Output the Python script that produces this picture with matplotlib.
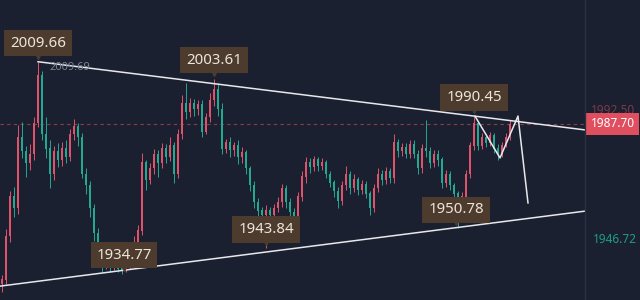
import matplotlib
matplotlib.use("Agg")
import matplotlib.pyplot as plt
import matplotlib.transforms as mtransforms
import numpy as np

plt.rcParams['font.family'] = ['Noto Sans', 'DejaVu Sans']

# candle data, one row of ten per line
opens = [1931.0, 1932.6, 1948.0, 1962.0, 1958.0, 1983.0, 1978.0, 1974.0, 1977.0, 1988.0,
         2005.0, 1984.0, 1979.0, 1970.0, 1978.0, 1975.0, 1979.0, 1976.0, 1984.0, 1987.0,
         1983.0, 1970.0, 1966.0, 1958.0, 1949.0, 1942.0, 1937.5, 1938.5, 1937.0, 1938.0,
         1936.5, 1936.0, 1937.5, 1940.0, 1946.0, 1950.0, 1974.0, 1968.0, 1972.0, 1977.0,
         1974.0, 1979.0, 1976.0, 1980.0, 1970.0, 1984.0, 1995.0, 1992.0, 1995.0, 1993.0,
         1994.5, 1985.0, 1990.0, 1996.0, 2000.0, 1993.0, 1979.0, 1981.0, 1978.5, 1980.0,
         1976.0, 1977.5, 1972.0, 1966.0, 1960.0, 1957.0, 1955.5, 1957.0, 1955.5, 1958.0,
         1960.0, 1965.0, 1960.0, 1956.5, 1954.0, 1962.0, 1969.0, 1974.0, 1972.5, 1975.0,
         1973.0, 1974.0, 1970.0, 1967.0, 1964.0, 1960.5, 1966.0, 1970.0, 1965.0, 1968.0,
         1964.5, 1966.5, 1963.0, 1958.0, 1965.0, 1970.0, 1968.0, 1971.0, 1968.5, 1981.0,
         1978.0, 1979.5, 1977.0, 1980.5, 1977.0, 1972.0, 1979.0, 1978.0, 1974.0, 1977.0,
         1975.0, 1967.0, 1970.0, 1966.0, 1963.0, 1955.0, 1962.0, 1970.0, 1980.0, 1988.0,
         1980.0, 1983.0, 1981.0, 1983.5, 1979.0, 1977.0, 1980.0, 1983.0]
closes = [1932.6, 1948.0, 1962.0, 1958.0, 1983.0, 1978.0, 1974.0, 1977.0, 1988.0, 2005.0,
          1984.0, 1979.0, 1970.0, 1978.0, 1975.0, 1979.0, 1976.0, 1984.0, 1987.0, 1983.0,
          1970.0, 1966.0, 1958.0, 1949.0, 1942.0, 1937.5, 1938.5, 1937.0, 1938.0, 1936.5,
          1936.0, 1937.5, 1940.0, 1946.0, 1950.0, 1974.0, 1968.0, 1972.0, 1977.0, 1974.0,
          1979.0, 1976.0, 1980.0, 1970.0, 1984.0, 1995.0, 1992.0, 1995.0, 1993.0, 1994.5,
          1985.0, 1990.0, 1996.0, 2000.0, 1993.0, 1979.0, 1981.0, 1978.5, 1980.0, 1976.0,
          1977.5, 1972.0, 1966.0, 1960.0, 1957.0, 1955.5, 1957.0, 1955.5, 1958.0, 1960.0,
          1965.0, 1960.0, 1956.5, 1954.0, 1962.0, 1969.0, 1974.0, 1972.5, 1975.0, 1973.0,
          1974.0, 1970.0, 1967.0, 1964.0, 1960.5, 1966.0, 1970.0, 1965.0, 1968.0, 1964.5,
          1966.5, 1963.0, 1958.0, 1965.0, 1970.0, 1968.0, 1971.0, 1968.5, 1981.0, 1978.0,
          1979.5, 1977.0, 1980.5, 1977.0, 1972.0, 1979.0, 1978.0, 1974.0, 1977.0, 1975.0,
          1967.0, 1970.0, 1966.0, 1963.0, 1955.0, 1962.0, 1970.0, 1980.0, 1988.0, 1980.0,
          1983.0, 1981.0, 1983.5, 1979.0, 1977.0, 1980.0, 1983.0, 1987.7]
highs = [1934.5, 1950.5, 1964.0, 1965.5, 1987.5, 1988.5, 1980.0, 1980.5, 1990.0, 2009.66,
         2006.5, 1990.0, 1982.0, 1980.0, 1981.0, 1981.5, 1982.0, 1986.0, 1989.5, 1988.0,
         1984.5, 1972.0, 1967.5, 1959.5, 1951.0, 1943.5, 1940.0, 1940.0, 1939.5, 1939.0,
         1937.5, 1939.0, 1942.0, 1948.0, 1952.0, 1977.5, 1975.0, 1974.0, 1979.0, 1978.5,
         1981.0, 1980.5, 1983.0, 1981.5, 1986.0, 1998.0, 2002.0, 1997.0, 1996.5, 1996.0,
         1996.0, 1991.5, 1998.5, 2003.61, 2002.0, 1995.0, 1982.5, 1983.0, 1981.5, 1982.0,
         1979.5, 1978.5, 1973.0, 1967.5, 1961.5, 1958.5, 1959.0, 1958.5, 1959.5, 1962.0,
         1966.5, 1966.0, 1961.5, 1958.0, 1963.5, 1971.0, 1976.0, 1975.5, 1976.5, 1976.0,
         1975.5, 1975.0, 1971.0, 1968.0, 1965.5, 1967.5, 1973.0, 1971.0, 1970.0, 1969.0,
         1968.0, 1967.5, 1964.0, 1966.5, 1972.0, 1971.5, 1972.5, 1972.0, 1984.0, 1982.5,
         1981.0, 1981.0, 1982.0, 1982.0, 1978.5, 1980.5, 1989.0, 1979.5, 1978.5, 1978.5,
         1976.0, 1971.5, 1971.0, 1967.0, 1964.0, 1963.5, 1971.5, 1981.5, 1990.45, 1988.5,
         1984.5, 1984.0, 1985.0, 1984.5, 1980.5, 1981.5, 1984.5, 1989.0]
lows = [1928.5, 1931.0, 1946.0, 1955.0, 1956.0, 1975.5, 1969.0, 1971.5, 1975.0, 1986.5,
        1982.0, 1975.5, 1965.0, 1968.0, 1972.5, 1973.0, 1974.0, 1974.5, 1982.0, 1980.0,
        1968.5, 1963.0, 1955.0, 1946.5, 1940.0, 1935.5, 1936.5, 1935.5, 1936.0, 1935.5,
        1934.77, 1935.5, 1936.5, 1939.0, 1944.5, 1948.5, 1964.5, 1966.5, 1970.0, 1969.0,
        1972.0, 1974.0, 1974.5, 1967.0, 1968.5, 1982.5, 1989.5, 1990.0, 1990.5, 1991.0,
        1983.0, 1984.0, 1988.5, 1994.0, 1990.5, 1977.0, 1977.5, 1976.0, 1976.5, 1973.5,
        1974.0, 1970.0, 1964.0, 1958.0, 1955.0, 1946.0, 1943.84, 1953.5, 1954.0, 1956.5,
        1958.5, 1958.0, 1955.0, 1951.5, 1952.5, 1960.5, 1967.0, 1970.5, 1971.0, 1971.0,
        1971.5, 1968.5, 1965.5, 1962.0, 1958.0, 1959.0, 1964.5, 1963.0, 1963.5, 1962.5,
        1963.0, 1961.5, 1955.5, 1956.5, 1963.5, 1966.0, 1966.5, 1967.0, 1967.0, 1976.0,
        1976.5, 1975.5, 1975.5, 1975.5, 1970.0, 1970.5, 1976.0, 1972.0, 1972.5, 1973.0,
        1965.0, 1965.5, 1964.5, 1961.0, 1950.78, 1953.5, 1960.5, 1968.5, 1978.5, 1978.5,
        1979.0, 1979.5, 1980.0, 1977.5, 1975.0, 1976.0, 1979.5, 1982.0]

# drawn lines (candle index, price)
upper_line = ([9, 145.75], [2009.69, 1985.6])
lower_line = ([-0.5, 145.75], [1930.4, 1956.9])
zigzag = ([118.25, 124.5, 129, 131.5], [1990.45, 1975.7, 1990.5, 1959.8])

# marked highs / lows: (candle index, price, label)
marks = [(9, 2009.66, "2009.66"), (53, 2003.61, "2003.61"), (118, 1990.45, "1990.45"),
         (30.5, 1934.77, "1934.77"), (66, 1943.84, "1943.84"), (113.5, 1950.78, "1950.78")]

last_price = 1987.70
faded_price = 1992.50
low_price = 1946.72

bg = '#1b2030'
up_col = '#e0526a'
down_col = '#23a891'
box_col = '#4d3c2d'

fig = plt.figure(figsize=(6.4, 3), dpi=100, facecolor=bg)
ax = fig.add_axes([0, 0, 585 / 640, 1])
ax.set_facecolor(bg)
ax.set_xlim(-0.5, 145.75)
ax.set_ylim(1925.5, 2031.5)
ax.axis('off')

o = np.array(opens)
c = np.array(closes)
h = np.array(highs)
l = np.array(lows)
x = np.arange(len(c))
cols = np.where(c >= o, up_col, down_col)

ax.vlines(x, l, h, colors=cols, linewidth=0.7, zorder=2)
ax.bar(x, np.abs(c - o) + 0.15, bottom=np.minimum(o, c), width=0.45,
       color=cols, linewidth=0, zorder=3)

# current price dashed line
ax.axhline(last_price, color='#8a3c4c', linewidth=0.8, dashes=(3, 3), zorder=1)

ax.plot(*upper_line, color='#e8e8ec', linewidth=1.1, zorder=4)
ax.plot(*lower_line, color='#e8e8ec', linewidth=1.1, zorder=4)
ax.plot(*zigzag, color='#e8e8ec', linewidth=1.1, zorder=4)

ax.annotate("2009.69", xy=(upper_line[0][0], upper_line[1][0]), xytext=(8, -4),
            textcoords='offset points', ha='left', va='center', fontsize=8,
            color='#7d8391', zorder=5)

for mx, my, txt in marks:
    ax.annotate(txt, xy=(mx, my), xytext=(0, 13.5), textcoords='offset points',
                ha='center', va='center', fontsize=10.8, color='#ece5da', zorder=6,
                bbox=dict(boxstyle='square,pad=0.38', fc=box_col, ec='none'))
    tri = ax.transData + mtransforms.ScaledTranslation(0, 4.5 / 72, fig.dpi_scale_trans)
    ax.plot([mx], [my], marker='v', ms=5, color=box_col, transform=tri, zorder=6,
            clip_on=False)

# price scale labels
fig.add_artist(plt.Line2D([585 / 640, 585 / 640], [0, 1], color='#2b3140', linewidth=1))
ax.annotate(f"{faded_price:.2f}", xy=(1, faded_price), xycoords=('axes fraction', 'data'),
            xytext=(4, 0), textcoords='offset points', ha='left', va='center',
            fontsize=8.5, color='#7a3a48', annotation_clip=False)
ax.annotate(f"{last_price:.2f}", xy=(1, last_price), xycoords=('axes fraction', 'data'),
            xytext=(4, 0), textcoords='offset points', ha='left', va='center',
            fontsize=8.5, color='white', annotation_clip=False,
            bbox=dict(boxstyle='square,pad=0.4', fc='#e04f5f', ec='none'))
ax.annotate(f"{low_price:.2f}", xy=(1, low_price), xycoords=('axes fraction', 'data'),
            xytext=(6, 0), textcoords='offset points', ha='left', va='center',
            fontsize=8.5, color='#1e9c88', annotation_clip=False)

fig.savefig('out.png', dpi=100, facecolor=bg)
